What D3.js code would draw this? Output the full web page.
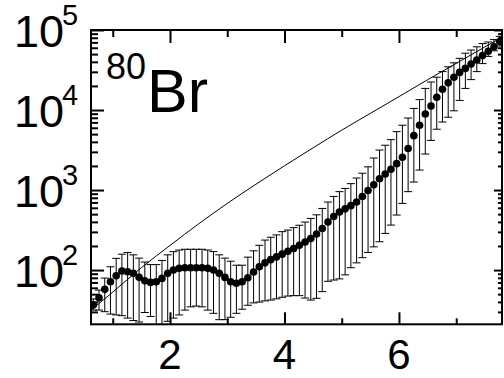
<!DOCTYPE html>
<html>
<head>
<meta charset="utf-8">
<script src="https://cdn.jsdelivr.net/npm/d3@7"></script>
<style>
  body { margin: 0; background: #fff; }
  svg { display: block; }
  text { font-family: "Liberation Sans", Arial, Helvetica, sans-serif; fill: #000; }
</style>
</head>
<body>
<script>
// Excitation energy bins (MeV)
const energy = [0.66,0.76,0.86,0.96,1.06,1.16,1.26,1.36,1.46,1.56,1.66,1.76,1.86,1.96,2.06,2.16,2.26,2.36,2.46,2.56,2.66,2.76,2.86,2.96,3.06,3.16,3.26,3.36,3.46,3.56,3.66,3.76,3.86,3.96,4.06,4.16,4.26,4.36,4.46,4.56,4.66,4.76,4.86,4.96,5.06,5.16,5.26,5.36,5.46,5.56,5.66,5.76,5.86,5.96,6.06,6.16,6.26,6.36,6.46,6.56,6.66,6.76,6.86,6.96,7.06,7.16,7.26,7.36,7.46,7.56,7.66,7.76];
// Level density (MeV^-1)
const density = [36.5,45.1,57.4,71.4,84.9,97.2,95.3,91.0,81.1,73.5,70.1,71.4,78.7,91.0,100,105,107,107,107,107,105,100,91,81,71.4,68.2,71.4,80.2,94.4,110,123,135,146,158,172,186,204,224,248,282,331,398,468,531,582,638,708,832,989,1161,1380,1585,1820,2138,2570,3311,4786,6457,8913,11220,14450,18200,21880,25700,29510,33110,37580,42170,47860,54330,61660,71600];
// Upper end of each error bar
const densityHigh = [43.6,56.2,79.4,110,140,158,166,155,141,126,117,117,132,155,170,178,182,182,182,182,178,170,155,141,129,115,115,145,174,204,237,257,275,302,316,339,363,398,442,490,589,708,832,955,1047,1202,1413,1622,1950,2512,3162,3631,4266,5370,6457,7943,10470,13490,18620,22390,25700,30200,34670,38900,44260,51290,56230,61660,67610,70790,75860,83180];
// Lower end of each error bar
const densityLow = [31.6,31.6,30.2,28.2,27.5,26.9,25.1,23.4,22.4,29.5,26.3,20,17.8,22.9,25.1,27.5,31.6,34.7,35.5,34.7,31.6,28.8,24,24,25.7,28.8,32.4,36.3,38.9,39.8,41.2,42.2,43.7,45.7,47.3,47.9,47.9,44.7,42.2,44.3,53.7,72.4,75,77.6,87.1,107,123,143,166,195,226,287,365,487,681,955,1259,1778,2818,4169,5754,7079,8128,9772,13180,18620,23990,30200,38020,46770,54950,63100];
// Model level density curve
const modelEnergy = [0.62,1.0,1.5,2.0,2.5,3.0,3.5,4.0,4.5,5.0,5.5,6.0,6.5,7.0,7.5,7.8];
const modelDensity = [31.6,53,107,203,378,680,1180,2010,3370,5600,9080,14700,23900,38300,61400,81500];

const xMajorTicks = [2, 4, 6];
const xMinorTicks = [1, 3, 5, 7];
const yDecadeTicks = [1e2, 1e3, 1e4, 1e5];
const yDecadeExponents = ["2", "3", "4", "5"];
const nucleusMass = "80";
const nucleusSymbol = "Br";

const W = 504, H = 378;
const plot = { left: 91, right: 502, top: 30, bottom: 324.3 };

const x = d3.scaleLinear().domain([0.62, 7.8]).range([plot.left, plot.right]);
const y = d3.scaleLog().domain([21, 1e5]).range([plot.bottom, plot.top]);

const svg = d3.select("body").append("svg").attr("width", W).attr("height", H);

svg.append("defs").append("clipPath").attr("id", "plotClip")
  .append("rect")
  .attr("x", plot.left).attr("y", plot.top)
  .attr("width", plot.right - plot.left).attr("height", plot.bottom - plot.top);

const data = energy.map((e, i) => ({ e, v: density[i], lo: densityLow[i], hi: densityHigh[i] }));
const model = modelEnergy.map((e, i) => ({ e, v: modelDensity[i] }));

const marks = svg.append("g").attr("clip-path", "url(#plotClip)");

// Model curve
marks.append("path")
  .datum(model)
  .attr("fill", "none")
  .attr("stroke", "#000")
  .attr("stroke-width", 1)
  .attr("d", d3.line().x(d => x(d.e)).y(d => y(d.v)).curve(d3.curveMonotoneX));

// Error bars
const capHalf = 4;
const bars = marks.append("g").attr("stroke", "#000").attr("stroke-width", 1);
bars.selectAll("line.stem").data(data).join("line")
  .attr("class", "stem")
  .attr("x1", d => x(d.e)).attr("x2", d => x(d.e))
  .attr("y1", d => y(d.lo)).attr("y2", d => y(d.hi));
bars.selectAll("line.capHi").data(data).join("line")
  .attr("class", "capHi")
  .attr("x1", d => x(d.e) - capHalf).attr("x2", d => x(d.e) + capHalf)
  .attr("y1", d => y(d.hi)).attr("y2", d => y(d.hi));
bars.selectAll("line.capLo").data(data).join("line")
  .attr("class", "capLo")
  .attr("x1", d => x(d.e) - capHalf).attr("x2", d => x(d.e) + capHalf)
  .attr("y1", d => y(d.lo)).attr("y2", d => y(d.lo));

// Data points
marks.append("g").selectAll("circle").data(data).join("circle")
  .attr("cx", d => x(d.e)).attr("cy", d => y(d.v))
  .attr("r", 3.8).attr("fill", "#000");

// Inward ticks on all four sides
const yMinorTicks = y.ticks().filter(v => v >= 21 && Math.abs(Math.log10(v) - Math.round(Math.log10(v))) > 1e-6);

function styleAxis(g) {
  g.select(".domain").remove();
  g.selectAll(".tick line").attr("stroke", "#000").attr("stroke-width", 2);
  g.selectAll(".tick text").remove();
}
svg.append("g").attr("transform", `translate(0,${plot.bottom})`)
  .call(d3.axisBottom(x).tickValues(xMajorTicks).tickSize(-12)).call(styleAxis);
svg.append("g").attr("transform", `translate(0,${plot.bottom})`)
  .call(d3.axisBottom(x).tickValues(xMinorTicks).tickSize(-6)).call(styleAxis);
svg.append("g").attr("transform", `translate(0,${plot.top})`)
  .call(d3.axisTop(x).tickValues(xMajorTicks).tickSize(-13)).call(styleAxis);
svg.append("g").attr("transform", `translate(0,${plot.top})`)
  .call(d3.axisTop(x).tickValues(xMinorTicks).tickSize(-7)).call(styleAxis);
svg.append("g").attr("transform", `translate(${plot.left},0)`)
  .call(d3.axisLeft(y).tickValues(yDecadeTicks).tickSize(-13)).call(styleAxis);
svg.append("g").attr("transform", `translate(${plot.left},0)`)
  .call(d3.axisLeft(y).tickValues(yMinorTicks).tickSize(-7)).call(styleAxis);
svg.append("g").attr("transform", `translate(${plot.right},0)`)
  .call(d3.axisRight(y).tickValues(yDecadeTicks).tickSize(-8)).call(styleAxis);
svg.append("g").attr("transform", `translate(${plot.right},0)`)
  .call(d3.axisRight(y).tickValues(yMinorTicks).tickSize(-4)).call(styleAxis);

// Frame
svg.append("rect")
  .attr("x", plot.left).attr("y", plot.top)
  .attr("width", plot.right - plot.left).attr("height", plot.bottom - plot.top)
  .attr("fill", "none").attr("stroke", "#000").attr("stroke-width", 2);

// X tick labels
svg.append("g").selectAll("text").data(xMajorTicks).join("text")
  .attr("x", d => x(d)).attr("y", 369)
  .attr("text-anchor", "middle")
  .attr("font-size", 42)
  .text(d => d);

// Y tick labels: 10 with superscript exponent
const yLab = svg.append("g").selectAll("g").data(yDecadeTicks).join("g");
yLab.append("text")
  .attr("x", 64).attr("y", d => y(d) + 17)
  .attr("text-anchor", "end")
  .attr("font-size", 45)
  .text("10");
yLab.append("text")
  .attr("x", 62).attr("y", d => y(d) - 5)
  .attr("font-size", 29)
  .text((d, i) => yDecadeExponents[i]);

// Nucleus label
svg.append("text").attr("x", 106).attr("y", 79).attr("font-size", 36).text(nucleusMass);
svg.append("text").attr("x", 147).attr("y", 112).attr("font-size", 61).text(nucleusSymbol);
</script>
</body>
</html>
